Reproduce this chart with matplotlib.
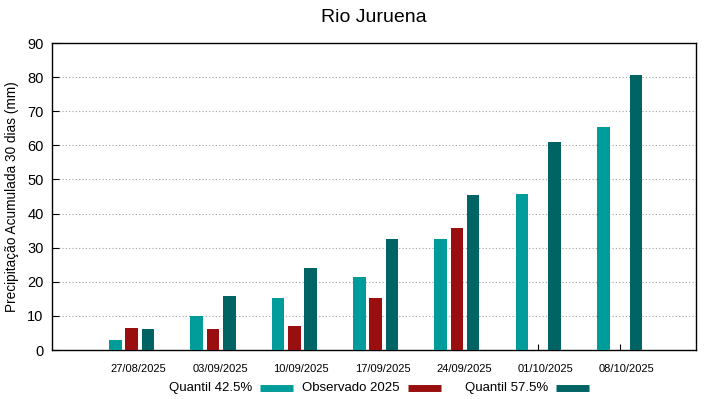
import matplotlib
matplotlib.use("Agg")
import matplotlib.pyplot as plt
import matplotlib.transforms as mtransforms
from matplotlib.lines import Line2D
import numpy as np

plt.rcParams['font.family'] = ['Liberation Sans', 'DejaVu Sans']

# data
dates = ['27/08/2025', '03/09/2025', '10/09/2025', '17/09/2025',
         '24/09/2025', '01/10/2025', '08/10/2025']
q425 = [3.0, 9.9, 15.3, 21.4, 32.5, 45.7, 65.4]
obs2025 = [6.4, 6.1, 6.9, 15.3, 35.7, np.nan, np.nan]
q575 = [6.2, 15.8, 24.0, 32.6, 45.5, 61.0, 80.6]
series_names = ['Quantil 42.5%', 'Observado 2025', 'Quantil 57.5%']

c_q425 = '#009b9b'
c_obs = '#990e0e'
c_q575 = '#006464'
colors = [c_q425, c_obs, c_q575]

W, H = 719, 399
fig = plt.figure(figsize=(W / 100, H / 100), dpi=100)
ax = fig.add_axes([0.0723, 0.1228, 0.8957, 0.7694])

x = np.arange(len(dates))
w = 0.155
off = 0.2
ax.bar(x - off, q425, w, color=c_q425, zorder=3)
ax.bar(x, obs2025, w, color=c_obs, zorder=3)
ax.bar(x + off, q575, w, color=c_q575, zorder=3)

ax.set_xlim(-0.98, 6.94)
ax.set_ylim(0, 90)
ax.set_yticks(np.arange(0, 100, 10))
ax.set_xticks(x)
ax.set_xticklabels(dates, fontsize=8)
ax.tick_params(axis='y', direction='in', length=5, labelsize=10.5, pad=6)
ax.tick_params(axis='x', direction='in', length=4, pad=10)
# shift date labels a little to the right, like the original
shift = mtransforms.ScaledTranslation(7 / 100, 0, fig.dpi_scale_trans)
for lab in ax.get_xticklabels():
    lab.set_transform(lab.get_transform() + shift)

for yv in range(10, 90, 10):
    ax.axhline(yv, color='#a0a0a0', lw=0.8, ls=(0, (1, 2)), zorder=1)

for s in ax.spines.values():
    s.set_linewidth(1.0)
    s.set_color('black')

ax.set_ylabel('Precipitação Acumulada 30 dias (mm)', fontsize=9.8, labelpad=6)
ax.set_title('Rio Juruena', fontsize=14, pad=15)

# gnuplot-like key below the plot: text then sample
ky = (H - 388) / H
text_end = [252, 400, 548]
for name, col, xe in zip(series_names, colors, text_end):
    fig.text(xe / W, ky, name, ha='right', va='center', fontsize=9.5)
    fig.add_artist(Line2D([(xe + 8) / W, (xe + 41) / W], [ky, ky],
                          color=col, lw=5, solid_capstyle='butt'))

fig.savefig('out.png', dpi=100)
